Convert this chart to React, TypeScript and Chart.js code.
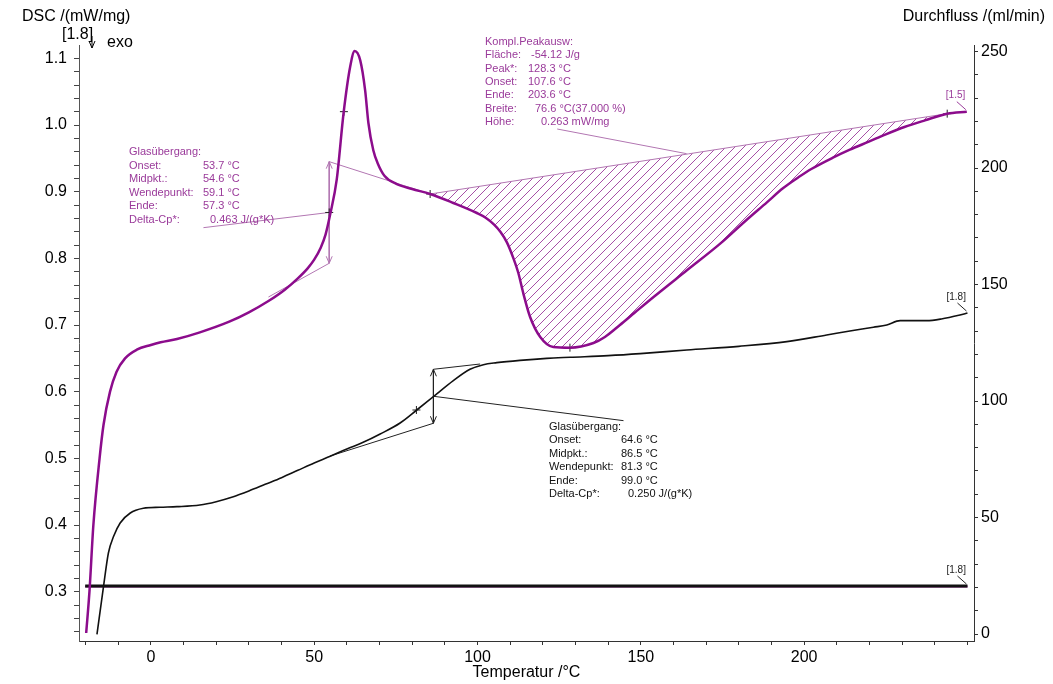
import React, { useEffect, useRef } from 'react';
import { Chart, registerables } from 'chart.js';

Chart.register(...registerables);

const FONT = '"Liberation Sans", Arial, sans-serif';
const PURPLE = '#8C0C8C';
const PURPLE_TEXT = '#9A3A9A';
const PURPLE_THIN = '#B276B2';
const HATCH = '#A650A6';

// Temperature axis (°C)
const X_MIN = -22;
const X_MAX = 252;
const xMajorTicks = [0, 50, 100, 150, 200];
// DSC axis (mW/mg)
const DSC_MIN = 0.226;
const DSC_MAX = 1.12;
const dscMajorTicks = [0.3, 0.4, 0.5, 0.6, 0.7, 0.8, 0.9, 1.0, 1.1];
// Flow axis (ml/min)
const FLOW_MIN = -3;
const FLOW_MAX = 252.8;
const flowMajorTicks = [0, 50, 100, 150, 200, 250];

// Run 1.5 (purple) – DSC signal
const purpleT = [-19.8, -18.8, -17.6, -15.7, -14.5, -12.5, -10.5, -7.9, -4.3, 0,
  3, 8, 15, 24, 30, 36, 41, 45, 48, 50,
  52, 53.5, 54.9, 56.9, 59, 61, 62.4, 64.1, 65.6, 66.6,
  68.1, 69.5, 71.5, 75, 80, 85.5, 92.6, 99.8, 102.5, 105,
  107, 109, 111, 112.5, 114.1, 116.1, 119.2, 123.2, 128.3, 135.5,
  139, 143.6, 148, 153.9, 164.1, 174.3, 182, 188.6, 193.5, 198.7,
  202.2, 208.8, 214, 219.8, 225, 230.7, 237, 243.8, 249.8];
const purpleDSC = [0.238, 0.3, 0.4, 0.5, 0.55, 0.6, 0.63, 0.65, 0.663, 0.67,
  0.674, 0.679, 0.689, 0.705, 0.719, 0.736, 0.753, 0.77, 0.785, 0.798,
  0.816, 0.836, 0.866, 0.918, 1.018, 1.087, 1.111, 1.097, 1.052, 1.003,
  0.962, 0.942, 0.924, 0.912, 0.904, 0.8965, 0.883, 0.868, 0.861, 0.851,
  0.84, 0.824, 0.8, 0.778, 0.746, 0.712, 0.682, 0.667, 0.666, 0.673,
  0.682, 0.7, 0.718, 0.742, 0.782, 0.822, 0.856, 0.884, 0.905, 0.923,
  0.934, 0.951, 0.963, 0.975, 0.986, 0.997, 1.007, 1.017, 1.02];

// Run 1.8 (black) – DSC signal
const blackT = [-16.5, -14.5, -13, -11.4, -9.4, -6.3, -2.3, 2.8, 8, 15,
  20, 25, 30, 35, 40, 45, 50, 54.9, 60, 65,
  70.2, 76.3, 81.4, 86.5, 92.6, 97.7, 101.8, 105.9, 113, 121.2,
  128.4, 140, 149.8, 164.1, 180, 194.7, 206.9, 214, 221.2, 225.3,
  229.4, 237.5, 242, 247.7, 250];
const blackDSC = [0.236, 0.3075, 0.358, 0.383, 0.403, 0.418, 0.425, 0.4266, 0.4275, 0.43,
  0.435, 0.442, 0.451, 0.461, 0.471, 0.482, 0.493, 0.503, 0.514, 0.524,
  0.5365, 0.553, 0.5725, 0.5925, 0.6165, 0.6335, 0.6405, 0.6435, 0.647, 0.65,
  0.6516, 0.654, 0.657, 0.6625, 0.668, 0.675, 0.685, 0.691, 0.6966, 0.7,
  0.7065, 0.7065, 0.709, 0.715, 0.718];

// Purge gas flow for both runs
const flowT = [-20.1, 250];
const flowBlack = [20.6, 20.6];
const flowPurple = [20.4, 20.4];

// Peak evaluation (purple): integration baseline
const peakStart = 85.5;
const peakEnd = 243.8;
const peakBaseDSC = [0.8965, 1.017];

// Glass transition construction, purple run: [T1, y1, T2, y2]
const purpleGlassArrow = [54.6, 0.945, 54.6, 0.7926];
const purpleGlassLines = [
  [54.6, 0.945, 85.5, 0.8965],
  [54.6, 0.7926, 36, 0.742],
  [16.1, 0.846, 54.6, 0.8688],
  [124.4, 0.994, 164, 0.957],
];
// Glass transition construction, black run
const blackGlassArrow = [86.5, 0.6336, 86.5, 0.5526];
const blackGlassLines = [
  [86.5, 0.6336, 100.8, 0.6415],
  [86.5, 0.5526, 54.9, 0.5035],
  [86.5, 0.5931, 144.7, 0.5565],
];

// Evaluation markers (+)
const markerT = [54.6, 59.1, 85.5, 128.3, 243.8, 81.3];
const markerDSC = [0.8688, 1.02, 0.8965, 0.666, 1.017, 0.5725];

// Result texts
const glassPurpleLabels = ['Glasübergang:', 'Onset:', 'Midpkt.:', 'Wendepunkt:', 'Ende:', 'Delta-Cp*:'];
const glassPurpleValues = ['', '53.7 °C', '54.6 °C', '59.1 °C', '57.3 °C', '0.463 J/(g*K)'];
const peakLabels = ['Kompl.Peakausw:', 'Fläche:', 'Peak*:', 'Onset:', 'Ende:', 'Breite:', 'Höhe:'];
const peakValues = ['', '-54.12 J/g', '128.3 °C', '107.6 °C', '203.6 °C', '76.6 °C(37.000 %)', '0.263 mW/mg'];
const glassBlackLabels = ['Glasübergang:', 'Onset:', 'Midpkt.:', 'Wendepunkt:', 'Ende:', 'Delta-Cp*:'];
const glassBlackValues = ['', '64.6 °C', '86.5 °C', '81.3 °C', '99.0 °C', '0.250 J/(g*K)'];

const pts = (xs: number[], ys: number[]) => xs.map((x, i) => ({ x, y: ys[i] }));
const seg = (s: number[]) => [{ x: s[0], y: s[1] }, { x: s[2], y: s[3] }];

function rangeTicks(min: number, max: number, step: number): { value: number }[] {
  const out: { value: number }[] = [];
  const n = Math.round((max - min) / step);
  for (let i = 0; i <= n; i++) out.push({ value: Math.round((min + i * step) * 1000) / 1000 });
  return out;
}

function makeHatch(ctx: CanvasRenderingContext2D): CanvasPattern | string {
  const s = 9;
  const c = document.createElement('canvas');
  c.width = s;
  c.height = s;
  const g = c.getContext('2d');
  if (!g) return 'rgba(166,80,166,0.3)';
  g.strokeStyle = HATCH;
  g.lineWidth = 1;
  g.beginPath();
  g.moveTo(0, s);
  g.lineTo(s, 0);
  g.moveTo(-2, 2);
  g.lineTo(2, -2);
  g.moveTo(s - 2, s + 2);
  g.lineTo(s + 2, s - 2);
  g.stroke();
  return ctx.createPattern(c, 'repeat') || 'rgba(166,80,166,0.3)';
}

function drawBlock(c: CanvasRenderingContext2D, labels: string[], values: string[], x0: number, valueX: number[], y0: number, dy: number, color: string) {
  c.fillStyle = color;
  c.font = `11px ${FONT}`;
  c.textAlign = 'left';
  c.textBaseline = 'middle';
  labels.forEach((l, i) => {
    c.fillText(l, x0, y0 + i * dy);
    if (values[i]) c.fillText(values[i], valueX[i], y0 + i * dy);
  });
}

function chevron(c: CanvasRenderingContext2D, x: number, y: number, dir: number) {
  c.beginPath();
  c.moveTo(x - 3, y - dir * 7);
  c.lineTo(x, y);
  c.lineTo(x + 3, y - dir * 7);
  c.stroke();
}

const overlayPlugin = {
  id: 'dscOverlay',
  afterDatasetsDraw(chart: any) {
    const c: CanvasRenderingContext2D = chart.ctx;
    const xs = chart.scales.x;
    const ys = chart.scales.y;
    const yf = chart.scales.y1;
    const area = chart.chartArea;
    c.save();

    // arrow heads on the step-height constructions
    c.lineWidth = 1;
    c.strokeStyle = PURPLE_THIN;
    {
      const px = xs.getPixelForValue(purpleGlassArrow[0]);
      chevron(c, px, ys.getPixelForValue(purpleGlassArrow[1]), -1);
      chevron(c, px, ys.getPixelForValue(purpleGlassArrow[3]), 1);
    }
    c.strokeStyle = '#222';
    {
      const px = xs.getPixelForValue(blackGlassArrow[0]);
      chevron(c, px, ys.getPixelForValue(blackGlassArrow[1]), -1);
      chevron(c, px, ys.getPixelForValue(blackGlassArrow[3]), 1);
    }

    // run identifiers at the curve ends
    const ends = [
      { t: purpleT[purpleT.length - 1], v: ys.getPixelForValue(purpleDSC[purpleDSC.length - 1]), txt: '[1.5]', col: PURPLE_TEXT },
      { t: blackT[blackT.length - 1], v: ys.getPixelForValue(blackDSC[blackDSC.length - 1]), txt: '[1.8]', col: '#222' },
      { t: flowT[flowT.length - 1], v: yf.getPixelForValue(flowBlack[flowBlack.length - 1]), txt: '[1.8]', col: '#222' },
    ];
    c.font = `10px ${FONT}`;
    c.textAlign = 'left';
    c.textBaseline = 'middle';
    ends.forEach((e) => {
      const px = xs.getPixelForValue(e.t);
      c.fillStyle = e.col;
      c.strokeStyle = e.col;
      c.fillText(e.txt, px - 21, e.v - 16);
      c.beginPath();
      c.moveTo(px - 10, e.v - 10);
      c.lineTo(px - 1, e.v - 2);
      c.stroke();
    });

    // result blocks
    drawBlock(c, glassPurpleLabels, glassPurpleValues, 129, [0, 203, 203, 203, 203, 210], 152, 13.5, PURPLE_TEXT);
    drawBlock(c, peakLabels, peakValues, 485, [0, 531, 528, 528, 528, 535, 541], 42, 13.35, PURPLE_TEXT);
    drawBlock(c, glassBlackLabels, glassBlackValues, 549, [0, 621, 621, 621, 621, 628], 426.5, 13.5, '#111');

    // axis titles and header
    c.fillStyle = '#000';
    c.font = `16px ${FONT}`;
    c.textBaseline = 'middle';
    c.textAlign = 'left';
    c.fillText('DSC /(mW/mg)', 22, 17);
    c.fillText('[1.8]', 62, 35);
    c.fillText('exo', 107, 43);
    c.textAlign = 'right';
    c.fillText('Durchfluss /(ml/min)', 1045, 17);
    c.textAlign = 'center';
    c.fillText('Temperatur /°C', (area.left + area.right) / 2, 673);

    // exo direction arrow
    c.strokeStyle = '#000';
    c.lineWidth = 1;
    c.beginPath();
    c.moveTo(92, 36);
    c.lineTo(92, 48);
    c.stroke();
    chevron(c, 92, 48, 1);
    c.restore();
  },
};

export default function App() {
  const ref = useRef<HTMLCanvasElement | null>(null);

  useEffect(() => {
    const canvas = ref.current;
    if (!canvas) return;
    const ctx = canvas.getContext('2d');
    if (!ctx) return;

    Chart.defaults.font.family = FONT;
    const hatch = makeHatch(ctx);

    const peakArea = pts(purpleT, purpleDSC).filter((p) => p.x >= peakStart && p.x <= peakEnd);
    const thin = (data: { x: number; y: number }[], color: string) => ({
      data,
      borderColor: color,
      borderWidth: 1,
      pointRadius: 0,
      yAxisID: 'y',
      fill: false,
    });

    const datasets: any[] = [
      {
        data: pts(purpleT, purpleDSC), borderColor: PURPLE, borderWidth: 2.5, pointRadius: 0,
        cubicInterpolationMode: 'monotone', yAxisID: 'y', fill: false,
      },
      {
        data: pts(blackT, blackDSC), borderColor: '#111', borderWidth: 1.6, pointRadius: 0,
        cubicInterpolationMode: 'monotone', yAxisID: 'y', fill: false,
      },
      { data: pts(flowT, flowBlack), borderColor: '#111', borderWidth: 3, pointRadius: 0, yAxisID: 'y1', fill: false },
      { data: pts(flowT, flowPurple), borderColor: PURPLE, borderWidth: 2, pointRadius: 0, yAxisID: 'y1', fill: false },
      thin(seg([peakStart, peakBaseDSC[0], peakEnd, peakBaseDSC[1]]), PURPLE_THIN),
      {
        data: peakArea, borderColor: 'rgba(0,0,0,0)', borderWidth: 0, pointRadius: 0,
        cubicInterpolationMode: 'monotone', yAxisID: 'y', fill: 4, backgroundColor: hatch,
      },
      {
        data: pts(markerT, markerDSC), showLine: false, pointStyle: 'cross', pointRadius: 4,
        pointBorderColor: '#222', pointBorderWidth: 1, yAxisID: 'y', fill: false,
      },
      thin(seg(purpleGlassArrow), PURPLE_THIN),
      ...purpleGlassLines.map((s) => thin(seg(s), PURPLE_THIN)),
      thin(seg(blackGlassArrow), '#222'),
      ...blackGlassLines.map((s) => thin(seg(s), '#222')),
    ];

    const tickFont = { size: 16, family: FONT };
    const chart = new Chart(ctx, {
      type: 'line',
      data: { datasets },
      plugins: [overlayPlugin],
      options: {
        animation: false,
        responsive: false,
        devicePixelRatio: 1,
        layout: { padding: { top: 45, left: 0, right: 0, bottom: 0 } },
        plugins: { legend: { display: false }, tooltip: { enabled: false } },
        scales: {
          x: {
            type: 'linear',
            min: X_MIN,
            max: X_MAX,
            afterBuildTicks: (s: any) => { s.ticks = rangeTicks(-20, 250, 10); },
            afterFit: (s: any) => { s.height = 43; },
            ticks: {
              autoSkip: false,
              maxRotation: 0,
              padding: 3,
              color: '#000',
              font: tickFont,
              callback: (v: any) => (xMajorTicks.includes(Number(v)) ? String(v) : ''),
            },
            grid: { drawOnChartArea: false, tickLength: 4, color: '#333' },
            border: { color: '#333', width: 1 },
          },
          y: {
            type: 'linear',
            position: 'left',
            min: DSC_MIN,
            max: DSC_MAX,
            afterBuildTicks: (s: any) => { s.ticks = rangeTicks(0.24, 1.1, 0.02); },
            afterFit: (s: any) => { s.width = 79; },
            ticks: {
              autoSkip: false,
              padding: 7,
              color: '#000',
              font: tickFont,
              callback: (v: any) => {
                const n = Number(v);
                return dscMajorTicks.some((m) => Math.abs(m - n) < 1e-6) ? n.toFixed(1) : '';
              },
            },
            grid: { drawOnChartArea: false, tickLength: 5, color: '#444' },
            border: { color: '#555', width: 1 },
          },
          y1: {
            type: 'linear',
            position: 'right',
            min: FLOW_MIN,
            max: FLOW_MAX,
            afterBuildTicks: (s: any) => { s.ticks = rangeTicks(0, 250, 10); },
            afterFit: (s: any) => { s.width = 79; },
            ticks: {
              autoSkip: false,
              padding: 3,
              color: '#000',
              font: tickFont,
              callback: (v: any) => (flowMajorTicks.includes(Number(v)) ? String(v) : ''),
            },
            grid: { drawOnChartArea: false, tickLength: 4, color: '#333' },
            border: { color: '#333', width: 1 },
          },
        },
      },
    } as any);

    return () => chart.destroy();
  }, []);

  return (
    <div style={{ position: 'fixed', left: 0, top: 0, width: 1053, height: 684, background: '#fff' }}>
      <canvas ref={ref} width={1053} height={684} style={{ width: 1053, height: 684, display: 'block' }} />
    </div>
  );
}
